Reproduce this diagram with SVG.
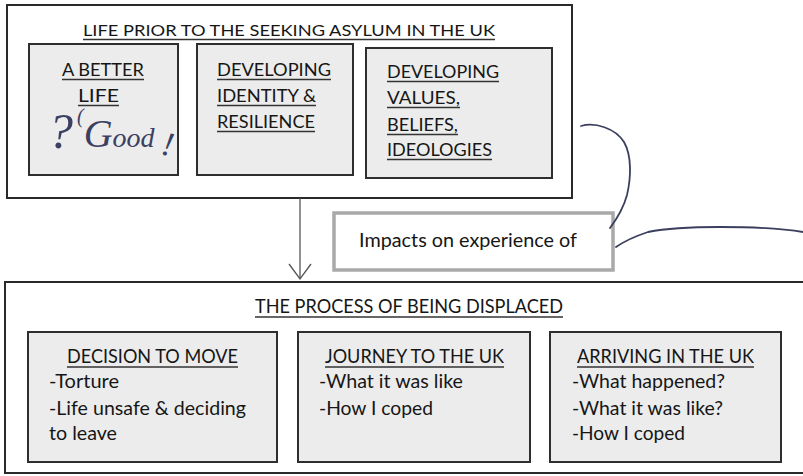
<svg xmlns="http://www.w3.org/2000/svg" width="803" height="476" viewBox="0 0 803 476">
<style>
.outer{fill:#ffffff;stroke:#2a2a2a;stroke-width:2}
.inner{fill:#ececec;stroke:#2e2e2e;stroke-width:2}
.imp{fill:#ffffff;stroke:#a9a9a9;stroke-width:3.5}
.t{font-family:Lato,"Liberation Sans",Arial,sans-serif;fill:#161616}
.ul{stroke:#333333;stroke-width:1.3}
.hand{font-family:"Liberation Serif","DejaVu Serif",serif;font-style:italic;fill:#3b4062}
.ink{fill:none;stroke:#3b3f5e;stroke-width:1.8;stroke-linecap:round}
.conn{stroke:#555555;stroke-width:1.3;fill:none}
</style>
<defs>
<marker id="openArrow" markerUnits="userSpaceOnUse" markerWidth="20" markerHeight="26" viewBox="0 0 20 26" refX="16" refY="12" orient="auto">
<path d="M1,1 L16,12 L1,23" fill="none" stroke="#555555" stroke-width="1.3"/>
</marker>
</defs>
<rect x="0" y="0" width="803" height="476" fill="#ffffff"/>

<g id="life-prior">
<rect class="outer" x="7" y="5" width="565" height="193"/>
<text class="t" x="83" y="36" font-size="16" textLength="412" lengthAdjust="spacingAndGlyphs">LIFE PRIOR TO THE SEEKING ASYLUM IN THE UK</text>
<line class="ul" x1="83" y1="39.5" x2="495" y2="39.5"/>
</g>

<g id="better-life">
<rect class="inner" x="29" y="44" width="149" height="131"/>
<text class="t" x="62" y="76" font-size="18" textLength="82" lengthAdjust="spacingAndGlyphs">A BETTER</text>
<line class="ul" x1="62" y1="79.5" x2="144" y2="79.5"/>
<text class="t" x="78" y="102" font-size="18" textLength="41" lengthAdjust="spacingAndGlyphs">LIFE</text>
<line class="ul" x1="78" y1="105.5" x2="119" y2="105.5"/>
<text class="hand" x="48" y="148" font-size="50">?</text>
<text class="hand" x="77" y="147" font-size="40"><tspan font-size="20" dy="-24">(</tspan><tspan dy="24">G</tspan><tspan font-size="28">ood</tspan></text>
<text class="hand" x="0" y="0" font-size="34" transform="translate(160,154) rotate(12)">!</text>
</g>

<g id="identity">
<rect class="inner" x="197" y="44" width="156" height="131"/>
<text class="t" x="217" y="76" font-size="18" textLength="114" lengthAdjust="spacingAndGlyphs">DEVELOPING</text>
<line class="ul" x1="217" y1="79.5" x2="331" y2="79.5"/>
<text class="t" x="217" y="102" font-size="18" textLength="99" lengthAdjust="spacingAndGlyphs">IDENTITY &amp;</text>
<line class="ul" x1="217" y1="105.5" x2="316" y2="105.5"/>
<text class="t" x="217" y="128" font-size="18" textLength="98" lengthAdjust="spacingAndGlyphs">RESILIENCE</text>
<line class="ul" x1="217" y1="131.5" x2="315" y2="131.5"/>
</g>

<g id="values">
<rect class="inner" x="366" y="48" width="186" height="130"/>
<text class="t" x="387" y="78" font-size="18" textLength="112" lengthAdjust="spacingAndGlyphs">DEVELOPING</text>
<line class="ul" x1="387" y1="81.5" x2="499" y2="81.5"/>
<text class="t" x="387" y="104" font-size="18" textLength="73" lengthAdjust="spacingAndGlyphs">VALUES,</text>
<line class="ul" x1="387" y1="107.5" x2="460" y2="107.5"/>
<text class="t" x="387" y="131" font-size="18" textLength="71" lengthAdjust="spacingAndGlyphs">BELIEFS,</text>
<line class="ul" x1="387" y1="134.5" x2="458" y2="134.5"/>
<text class="t" x="387" y="156" font-size="18" textLength="105" lengthAdjust="spacingAndGlyphs">IDEOLOGIES</text>
<line class="ul" x1="387" y1="159.5" x2="492" y2="159.5"/>
</g>

<g id="impacts">
<rect class="imp" x="334" y="213" width="279" height="57"/>
<text class="t" x="359" y="247" font-size="18.5" textLength="218" lengthAdjust="spacingAndGlyphs">Impacts on experience of</text>
</g>

<g id="process">
<rect class="outer" x="5" y="282" width="805" height="191"/>
<text class="t" x="255" y="313" font-size="18.5" textLength="308" lengthAdjust="spacingAndGlyphs">THE PROCESS OF BEING DISPLACED</text>
<line class="ul" x1="255" y1="317" x2="563" y2="317"/>
</g>

<g id="decision">
<rect class="inner" x="28" y="332" width="249" height="130"/>
<text class="t" x="67" y="363" font-size="19" textLength="171" lengthAdjust="spacingAndGlyphs">DECISION TO MOVE</text>
<line class="ul" x1="67" y1="367" x2="238" y2="367"/>
<text class="t" x="49" y="388" font-size="19" textLength="70" lengthAdjust="spacingAndGlyphs">-Torture</text>
<text class="t" x="49" y="415" font-size="19" textLength="197" lengthAdjust="spacingAndGlyphs">-Life unsafe &amp; deciding</text>
<text class="t" x="49" y="440" font-size="19" textLength="68" lengthAdjust="spacingAndGlyphs">to leave</text>
</g>

<g id="journey">
<rect class="inner" x="298" y="332" width="232" height="130"/>
<text class="t" x="325" y="363" font-size="19" textLength="179" lengthAdjust="spacingAndGlyphs">JOURNEY TO THE UK</text>
<line class="ul" x1="325" y1="367" x2="504" y2="367"/>
<text class="t" x="319" y="388" font-size="19" textLength="144" lengthAdjust="spacingAndGlyphs">-What it was like</text>
<text class="t" x="319" y="415" font-size="19" textLength="114" lengthAdjust="spacingAndGlyphs">-How I coped</text>
</g>

<g id="arriving">
<rect class="inner" x="550" y="332" width="231" height="130"/>
<text class="t" x="577" y="363" font-size="19" textLength="177" lengthAdjust="spacingAndGlyphs">ARRIVING IN THE UK</text>
<line class="ul" x1="577" y1="367" x2="754" y2="367"/>
<text class="t" x="572" y="388" font-size="19" textLength="153" lengthAdjust="spacingAndGlyphs">-What happened?</text>
<text class="t" x="572" y="415" font-size="19" textLength="151" lengthAdjust="spacingAndGlyphs">-What it was like?</text>
<text class="t" x="572" y="440" font-size="19" textLength="113" lengthAdjust="spacingAndGlyphs">-How I coped</text>
</g>

<g id="connectors">
<line class="conn" x1="300" y1="198" x2="300" y2="279" marker-end="url(#openArrow)"/>
<path class="ink" d="M581,126 C595,122 615,128 624,142 C632,156 631,178 627,195 C623,210 616,220 610,228"/>
<path class="ink" d="M616,247 C626,240 636,236 648,232 C668,228 690,227 720,227 C750,227 780,228 803,232"/>
</g>
</svg>
